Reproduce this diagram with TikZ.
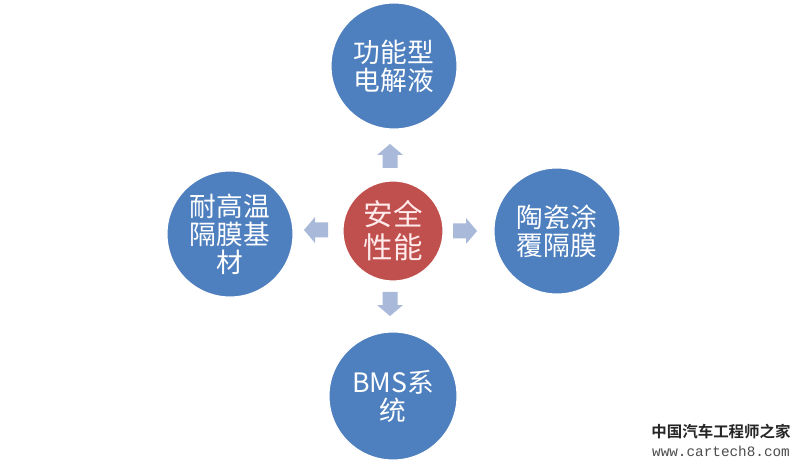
\documentclass[tikz,border=0pt]{standalone}
\usepackage{fontspec}
\setmainfont{Noto Sans CJK SC}
\newfontfamily\wmfont{Noto Sans CJK SC Bold}
\newfontfamily\urlfont{Liberation Mono}
\definecolor{cblue}{HTML}{4E7FBE}
\definecolor{cred}{HTML}{C0504D}
\definecolor{carrow}{HTML}{A9B9DA}
\tikzset{
  bluecirc/.style={circle, fill=cblue, draw=white, line width=0.8pt, minimum size=3.15cm, inner sep=0pt,
    text=white, align=center, font=\fontsize{19}{20}\selectfont},
  redcirc/.style={circle, fill=cred, draw=white, line width=0.8pt, minimum size=2.5cm, inner sep=0pt,
    text=white!92!red, align=center, font=\fontsize{21}{23.5}\selectfont},
  blockarr/.pic={\fill[carrow] (-12,-7.5) -- (1,-7.5) -- (1,-13) -- (12,0) -- (1,13) -- (1,7.5) -- (-12,7.5) -- cycle;}
}
\begin{document}
\begin{tikzpicture}[x=0.025cm,y=-0.025cm]
\useasboundingbox (0,0) rectangle (800,471);
\fill[white] (0,0) rectangle (800,471);
\node[bluecirc] (top) at (394,66) {功能型\\电解液};
\node[bluecirc] (left) at (230,234) {耐高温\\隔膜基\\材};
\node[bluecirc] (right) at (557,231) {陶瓷涂\\覆隔膜};
\node[bluecirc, minimum size=3.2cm] (bottom) at (393,396) {BMS系\\统};
\node[redcirc] (center) at (393,231) {安全\\性能};
\coordinate (aup) at (390,156);
\coordinate (aleft) at (316,230);
\coordinate (aright) at (465,231);
\coordinate (adown) at (390,304);
\pic[rotate=90] at (aup) {blockarr};
\pic[rotate=180] at (aleft) {blockarr};
\pic at (aright) {blockarr};
\pic[rotate=-90] at (adown) {blockarr};
\node[font=\wmfont\fontsize{11}{12}\selectfont, text=black!85, anchor=center] (wm1) at (721,432) {中国汽车工程师之家};
\node[font=\urlfont\fontsize{10.2}{11}\selectfont, text=black!70, anchor=center] (wm2) at (721,451) {www.cartech8.com};
\end{tikzpicture}
\end{document}
